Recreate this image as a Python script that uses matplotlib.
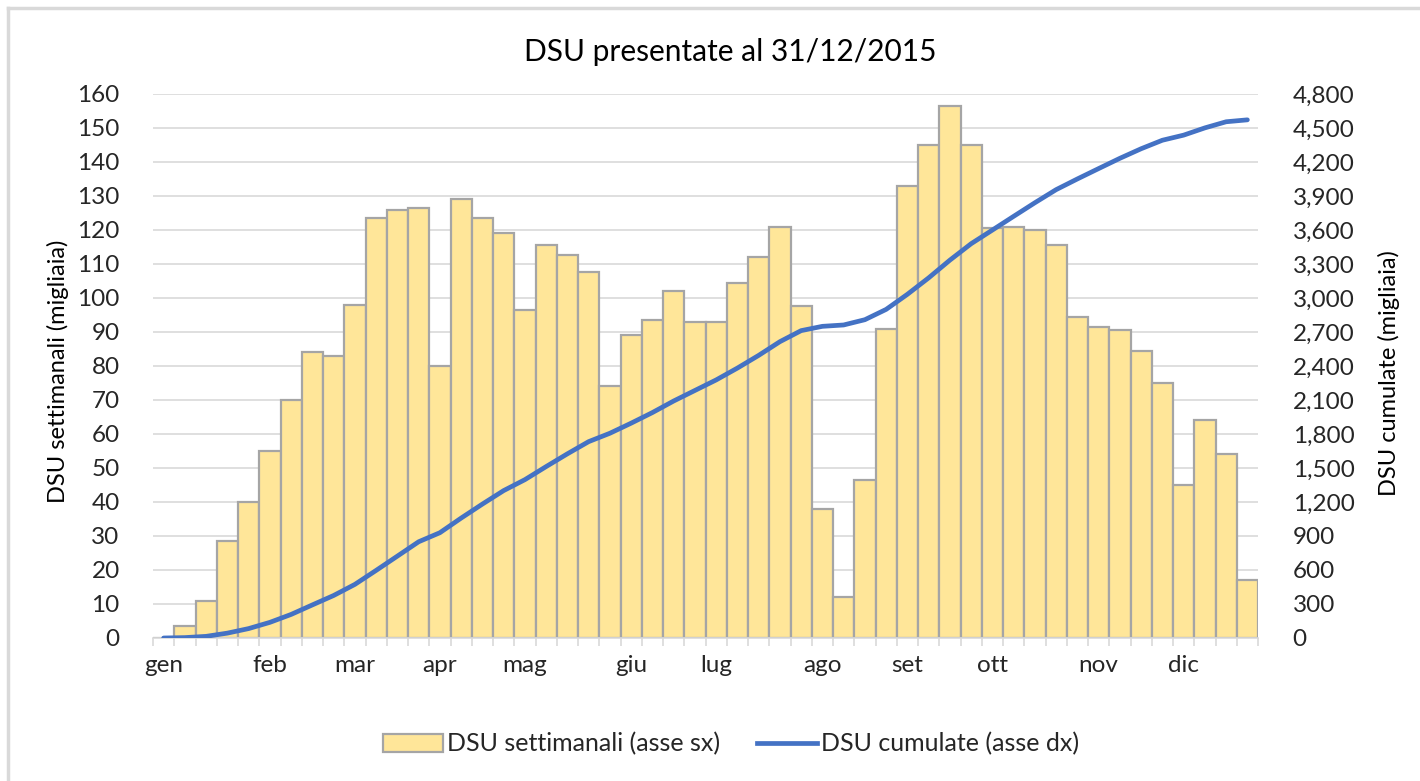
import matplotlib
matplotlib.use("Agg")
import matplotlib.pyplot as plt
import numpy as np
from matplotlib.ticker import FuncFormatter, MultipleLocator, FixedLocator
from matplotlib.lines import Line2D
from matplotlib.patches import Patch

plt.rcParams['font.family'] = ['Lato', 'DejaVu Sans']

# Weekly DSU (thousands), 52 weeks of 2015
weekly = [0, 3.5, 11, 28.5, 40, 55, 70, 84, 83, 98,
          123.5, 126, 126.5, 80, 129, 123.5, 119, 96.5, 115.5, 112.5,
          107.5, 74, 89, 93.5, 102, 93, 93, 104.5, 112, 121,
          97.5, 38, 12, 46.5, 91, 133, 145, 156.5, 145, 120.5,
          121, 120, 115.5, 94.5, 91.5, 90.5, 84.5, 75, 45, 64,
          54, 17]
# Cumulative DSU (thousands)
cumulative = list(np.cumsum(weekly))

month_labels = ['gen', 'feb', 'mar', 'apr', 'mag', 'giu', 'lug', 'ago', 'set', 'ott', 'nov', 'dic']
month_slots = [0, 5, 9, 13, 17, 22, 26, 31, 35, 39, 44, 48]

title = "DSU presentate al 31/12/2015"
ylabel_left = "DSU settimanali (migliaia)"
ylabel_right = "DSU cumulate (migliaia)"
legend_bar = "DSU settimanali (asse sx)"
legend_line = "DSU cumulate (asse dx)"

W, H = 1420, 781
fig = plt.figure(figsize=(W / 100, H / 100), dpi=100)
ax = fig.add_axes([153 / W, 1 - 638 / H, (1258 - 153) / W, (638 - 94) / H])

bar_face = '#FFE699'
bar_edge = '#A5A5A5'
line_col = '#4472C4'
grid_col = '#D9D9D9'
text_col = '#262626'

x = np.arange(len(weekly))
ax.bar(x, weekly, width=1.0, color=bar_face, edgecolor=bar_edge, linewidth=1.6, zorder=2)
ax.set_xlim(-0.5, len(weekly) - 0.5)
ax.set_ylim(0, 160)
ax.yaxis.set_major_locator(MultipleLocator(10))
ax.grid(axis='y', color=grid_col, linewidth=1.2, zorder=0)
ax.set_axisbelow(True)
for s in ['top', 'right', 'left']:
    ax.spines[s].set_visible(False)
ax.spines['bottom'].set_color(grid_col)
ax.spines['bottom'].set_linewidth(1.2)
ax.spines['bottom'].set_zorder(3)

ax.xaxis.set_major_locator(FixedLocator(month_slots))
ax.set_xticklabels(month_labels)
ax.xaxis.set_minor_locator(FixedLocator(np.arange(-0.5, len(weekly), 1.0)))
ax.tick_params(axis='x', which='major', length=0, pad=12, labelsize=17.5, labelcolor=text_col)
ax.tick_params(axis='x', which='minor', length=6, width=1.2, color=grid_col, direction='out')
ax.tick_params(axis='y', length=0, pad=24, labelsize=17.5, labelcolor=text_col)

ax2 = ax.twinx()
ax2.plot(x, cumulative, color=line_col, linewidth=3.4, solid_capstyle='round', zorder=4)
ax2.set_ylim(0, 4800)
ax2.yaxis.set_major_locator(MultipleLocator(300))
ax2.yaxis.set_major_formatter(FuncFormatter(lambda v, p: f"{int(v):,}"))
ax2.tick_params(axis='y', length=0, pad=25, labelsize=17.5, labelcolor=text_col)
for s in ['top', 'right', 'left', 'bottom']:
    ax2.spines[s].set_visible(False)

fig.text(58 / W, 1 - 371 / H, ylabel_left, rotation=90, ha='center', va='center',
         fontsize=17, color='black')
fig.text(1389 / W, 1 - 373 / H, ylabel_right, rotation=90, ha='center', va='center',
         fontsize=17, color='black')
fig.text(730 / W, 1 - 52 / H, title, ha='center', va='center', fontsize=21.5, color='black')

handles = [Patch(facecolor=bar_face, edgecolor=bar_edge, linewidth=1.6),
           Line2D([0], [0], color=line_col, linewidth=3.4)]
fig.legend(handles, [legend_bar, legend_line], loc='center', bbox_to_anchor=(731 / W, 1 - 744 / H),
           ncol=2, frameon=False, fontsize=18, handlelength=2.4, handletextpad=0.15,
           columnspacing=1.5, labelcolor=text_col)

# outer chart border (top and left visible)
fig.add_artist(Line2D([8 / W, 1], [1 - 8 / H, 1 - 8 / H], color='#D9D9D9', linewidth=2.5, transform=fig.transFigure))
fig.add_artist(Line2D([8 / W, 8 / W], [0, 1 - 8 / H], color='#D9D9D9', linewidth=2.5, transform=fig.transFigure))

fig.savefig('out.png', dpi=100)
